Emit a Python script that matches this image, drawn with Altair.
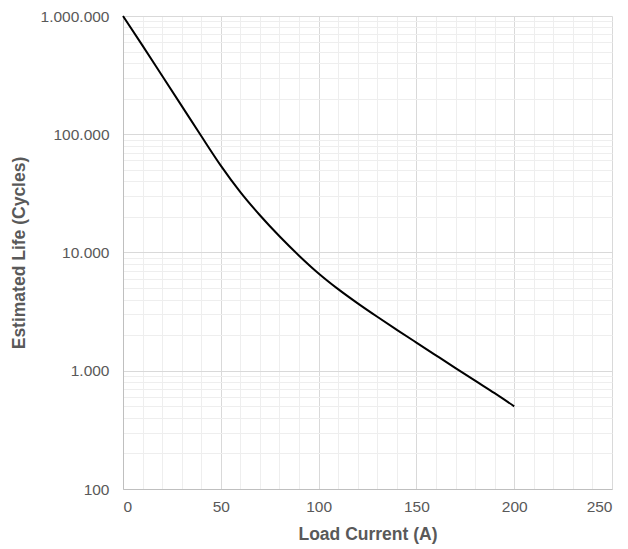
import altair as alt
import pandas as pd

# Load current (A) and estimated life (cycles)
current = [0, 10, 20, 30, 40, 50, 60, 70, 80, 90, 100, 110, 120, 130, 140, 150, 160, 170, 180, 190, 200]
life = [1000000, 562000, 312600, 173800, 96600, 54300, 32400, 20650, 13710, 9400, 6650, 4900, 3715, 2860, 2220, 1730, 1350, 1054, 824, 646, 500]

x_grid = list(range(0, 251, 10))
y_grid = [m * d for d in [100, 1000, 10000, 100000] for m in range(1, 10)] + [1000000]

df = pd.DataFrame({"current": current, "life": life})

major_x_test = "datum.value % 50 === 0"
major_y_test = "indexof([100,1000,10000,100000,1000000], datum.value) >= 0"

chart = alt.Chart(df).mark_line(color="black", strokeWidth=2, interpolate="monotone").encode(
    x=alt.X("current:Q", title="Load Current (A)",
            scale=alt.Scale(domain=[0, 250], nice=False),
            axis=alt.Axis(values=x_grid,
                          labelExpr="datum.value % 50 === 0 ? datum.label : ''",
                          gridColor={"condition": {"test": major_x_test, "value": "#d9d9d9"}, "value": "#eeeeee"},
                          ticks=False, domainColor="#bfbfbf", labelPadding=10, titlePadding=11)),
    y=alt.Y("life:Q", title="Estimated Life (Cycles)",
            scale=alt.Scale(type="log", domain=[100, 1000000], nice=False),
            axis=alt.Axis(values=y_grid,
                          labelExpr=major_y_test + " ? replace(format(datum.value, ','), regexp(',', 'g'), '.') : ''",
                          gridColor={"condition": {"test": major_y_test, "value": "#d9d9d9"}, "value": "#eeeeee"},
                          ticks=False, domainColor="#bfbfbf", labelPadding=14, titlePadding=12)),
).properties(width=489, height=473)

chart = chart.configure_axis(
    labelFont="Liberation Sans", labelFontSize=15.5, labelColor="#595959",
    titleFont="Liberation Sans", titleFontSize=17.5, titleFontWeight="bold", titleColor="#595959",
    gridWidth=1,
).configure_view(stroke=None).properties(
    autosize=alt.AutoSizeParams(type="none"),
    padding={"left": 115, "top": 8, "right": 8, "bottom": 62},
)

chart.save("out.html", embed_options={"renderer": "svg", "actions": False})
